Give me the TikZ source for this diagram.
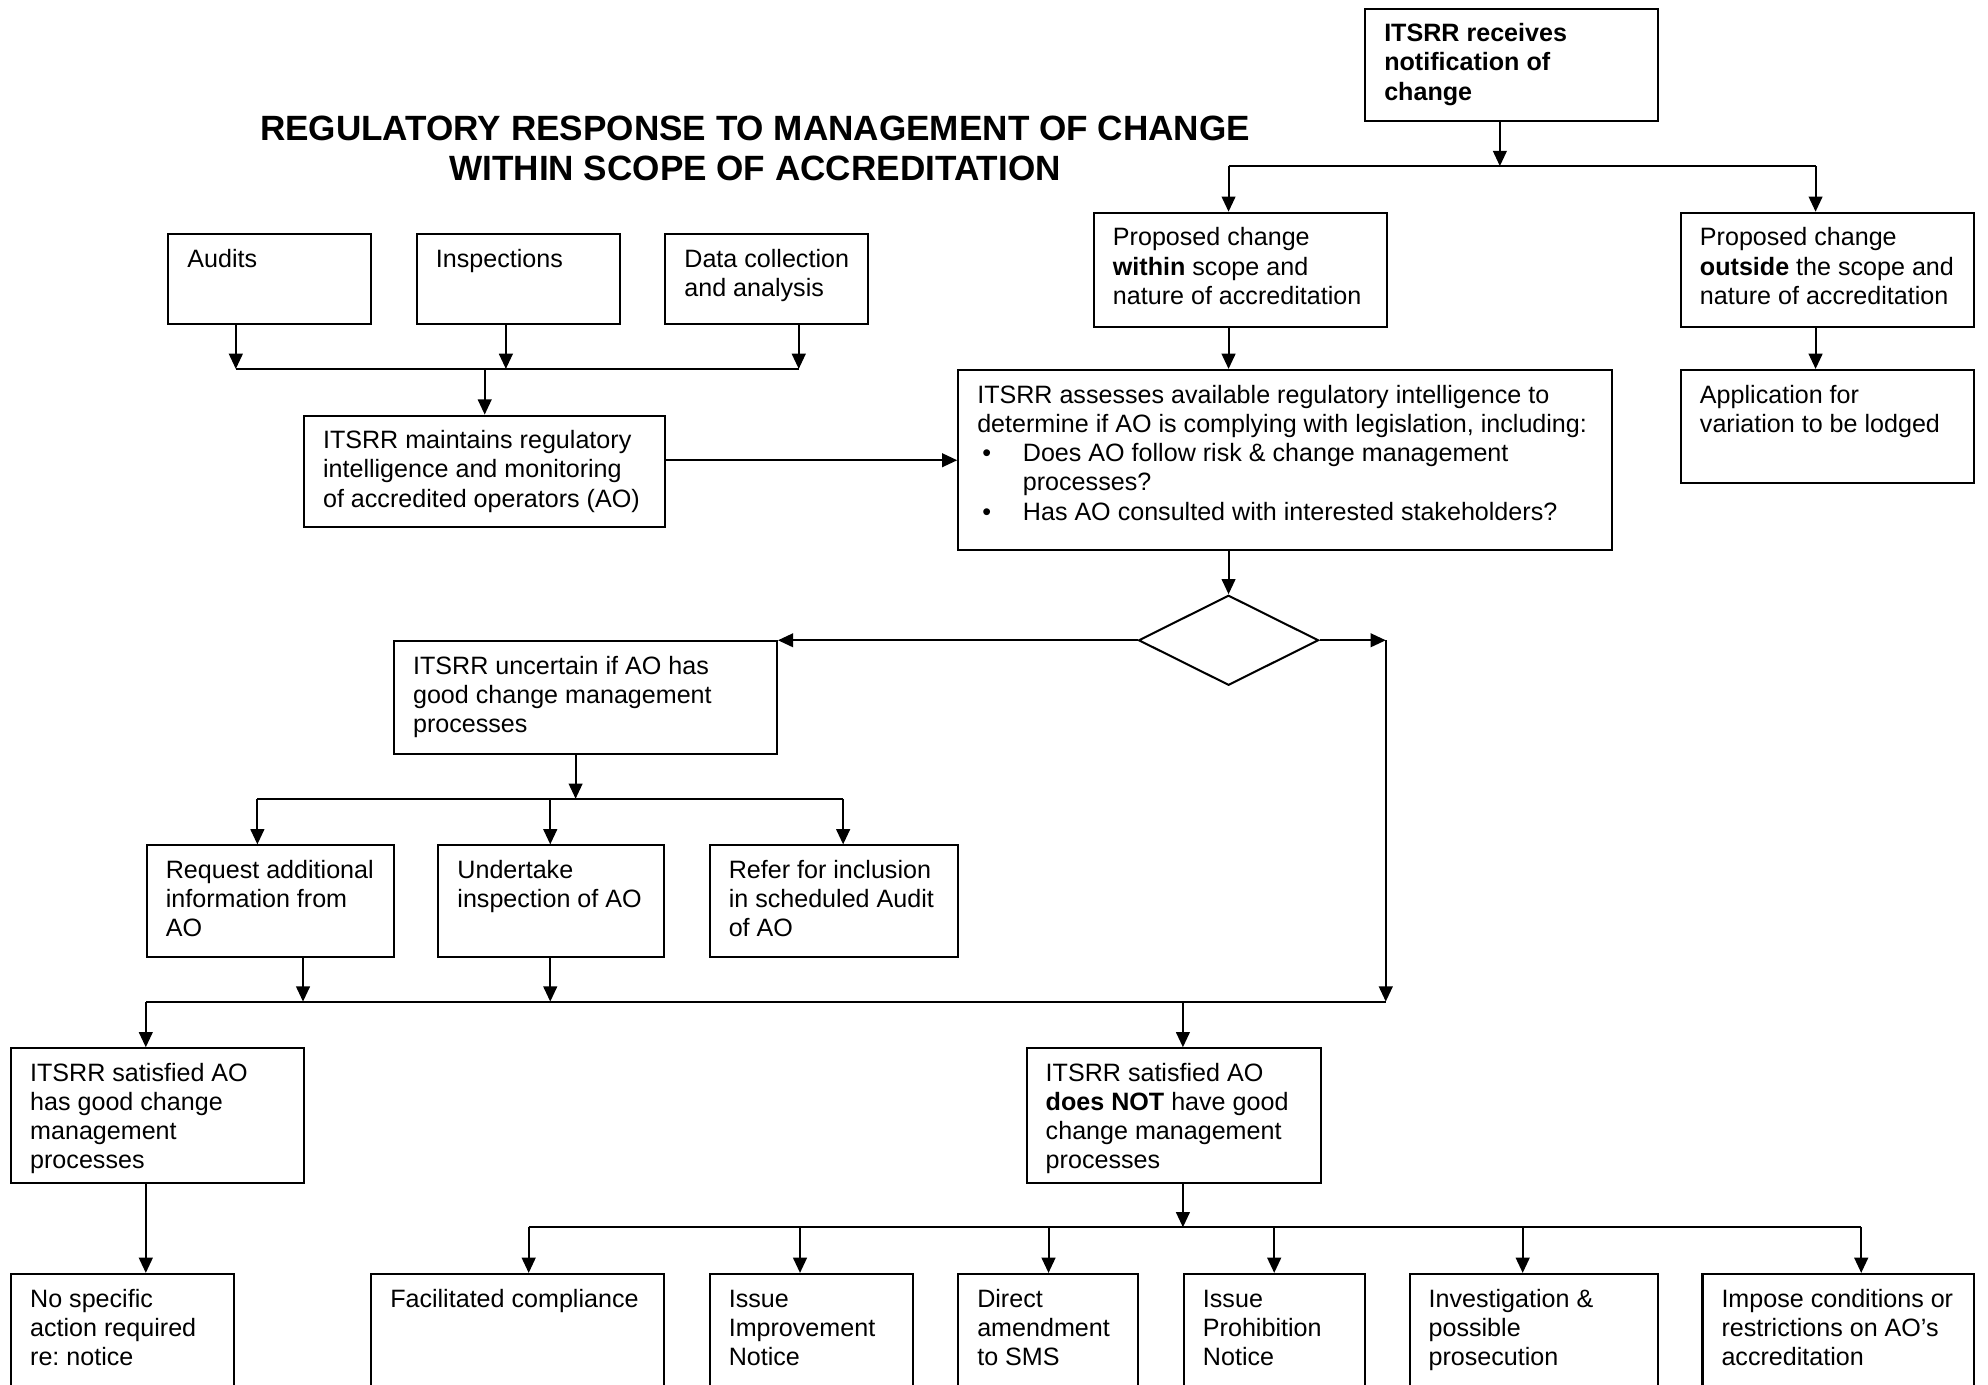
\documentclass[tikz,border=0pt]{standalone}
\usepackage{fontspec}
\setmainfont{Liberation Sans}
\usetikzlibrary{arrows.meta,shapes.geometric}
\frenchspacing
\newcommand{\bx}[3]{\parbox[c][\dimexpr 0.5pt*#2\relax][t]{\dimexpr 0.5pt*#1\relax}{\vspace*{5pt}\leftskip=7.5pt\rightskip=-20pt plus 1fil\parindent=0pt\strut #3}}
\newcommand{\bul}{\makebox[18pt][l]{\hspace{2pt}•}}
\tikzset{
 box/.style={draw, line width=0.8pt, inner sep=0pt, anchor=north west, font=\fontsize{9.9}{11.5}\selectfont},
 arr/.style={line width=0.8pt, -{Triangle[length=6pt,width=5.4pt]}},
 ln/.style={line width=0.8pt},
}
\begin{document}
\begin{tikzpicture}[x=0.5pt,y=-0.5pt]
\useasboundingbox (0,0) rectangle (1568,1092);
\clip (0,0) rectangle (1568,1092);

\node[anchor=north, inner sep=0pt, align=center, font=\bfseries\fontsize{13.85}{16}\selectfont] (title) at (595.5,91) {REGULATORY RESPONSE TO MANAGEMENT OF CHANGE\\WITHIN SCOPE OF ACCREDITATION};

\node[box] (recv) at (1076,6) {\bx{231}{89}{{\bfseries ITSRR receives\\notification of\\change}}};
\node[box] (within) at (862,167) {\bx{231}{90}{Proposed change\\\textbf{within} scope and\\nature of accreditation}};
\node[box] (outside) at (1325,167) {\bx{231}{90}{Proposed change\\\textbf{outside} the scope and\\nature of accreditation}};
\node[box] (appl) at (1325,291) {\bx{231}{89}{Application for\\variation to be lodged}};
\node[box] (audits) at (132,184) {\bx{160}{71}{Audits}};
\node[box] (insp) at (328,184) {\bx{160}{71}{Inspections}};
\node[box] (data) at (524,184) {\bx{160}{71}{Data collection\\and analysis}};
\node[box] (maint) at (239,327) {\bx{285}{88}{ITSRR maintains regulatory\\intelligence and monitoring\\of accredited operators (AO)}};
\node[box] (assess) at (755,291) {\bx{516}{142}{ITSRR assesses available regulatory intelligence to\\determine if AO is complying with legislation, including:\\\bul Does AO follow risk \& change management\\\hspace*{18pt}processes?\\[0.4pt]\bul Has AO consulted with interested stakeholders?}};
\node[diamond, draw, line width=0.8pt, inner sep=0pt, minimum width=71pt, minimum height=35.5pt] (dia) at (969,505) {};
\node[box] (unc) at (310,505) {\bx{302}{89}{ITSRR uncertain if AO has\\good change management\\processes}};
\node[box] (req) at (115,666) {\bx{195}{88}{Request additional\\information from\\AO}};
\node[box] (und) at (345,666) {\bx{178}{88}{Undertake\\inspection of AO}};
\node[box] (ref) at (559,666) {\bx{196}{88}{Refer for inclusion\\in scheduled Audit\\of AO}};
\node[box] (sgood) at (8,826) {\bx{231}{106}{ITSRR satisfied AO\\has good change\\management\\processes}};
\node[box] (snot) at (809,826) {\bx{232}{106}{ITSRR satisfied AO\\\textbf{does NOT} have good\\change management\\processes}};
\node[box] (nospec) at (8,1004) {\bx{176}{150}{No specific\\action required\\re: notice}};
\node[box] (facil) at (292,1004) {\bx{231}{150}{Facilitated compliance}};
\node[box] (impr) at (559,1004) {\bx{160}{150}{Issue\\Improvement\\Notice}};
\node[box] (direct) at (755,1004) {\bx{142}{150}{Direct\\amendment\\to SMS}};
\node[box] (prohib) at (933,1004) {\bx{143}{150}{Issue\\Prohibition\\Notice}};
\node[box] (invest) at (1111,1004) {\bx{196}{150}{Investigation \&\\possible\\prosecution}};
\node[box] (impose) at (1342,1004) {\bx{214}{150}{Impose conditions or\\restrictions on AO’s\\accreditation}};

% top branch
\coordinate (b0) at (1183,131);
\coordinate (bl) at (969,131);
\coordinate (br) at (1432,131);
\draw[arr] (recv.south -| b0) -- (b0);
\draw[ln] (bl) -- (br);
\draw[arr] (bl) -- (bl |- within.north);
\draw[arr] (br) -- (br |- outside.north);
\draw[arr] (outside.south -| br) -- (appl.north -| br);
\draw[arr] (within.south -| bl) -- (assess.north -| bl);

% sources
\coordinate (s1) at (186,291);
\coordinate (s2) at (399,291);
\coordinate (s3) at (630,291);
\draw[arr] (audits.south -| s1) -- (s1);
\draw[arr] (insp.south -| s2) -- (s2);
\draw[arr] (data.south -| s3) -- (s3);
\draw[ln] (s1) -- (s3);
\draw[arr] (maint.north |- s1) -- (maint.north);
\coordinate (m1) at (524,363);
\draw[arr] (maint.east |- m1) -- (assess.west |- m1);

% decision
\draw[arr] (assess.south -| dia.north) -- (dia.north);
\draw[arr] (dia.west) -- (unc.north east);
\coordinate (c1) at (1093,505);
\coordinate (c2) at (1093,790);
\draw[arr] (dia.east) -- (c1);
\draw[arr] (c1) -- (c2);

% uncertain branches
\coordinate (u0) at (454,630);
\coordinate (u1) at (203,630);
\coordinate (u2) at (434,630);
\coordinate (u3) at (665,630);
\draw[arr] (unc.south -| u0) -- (u0);
\draw[ln] (u1) -- (u3);
\draw[arr] (u1) -- (u1 |- req.north);
\draw[arr] (u2) -- (u2 |- und.north);
\draw[arr] (u3) -- (u3 |- ref.north);

% merge bar
\coordinate (v1) at (115,790);
\coordinate (v2) at (239,790);
\coordinate (v3) at (434,790);
\coordinate (v4) at (933,790);
\draw[arr] (req.south -| v2) -- (v2);
\draw[arr] (und.south -| v3) -- (v3);
\draw[ln] (v1) -- (c2);
\draw[arr] (v1) -- (v1 |- sgood.north);
\draw[arr] (v4) -- (v4 |- snot.north);
\draw[arr] (sgood.south -| v1) -- (v1 |- nospec.north);

% bottom bar
\coordinate (w0) at (933,968);
\coordinate (w1) at (417,968);
\coordinate (w2) at (631,968);
\coordinate (w3) at (827,968);
\coordinate (w4) at (1005,968);
\coordinate (w5) at (1201,968);
\coordinate (w6) at (1468,968);
\draw[arr] (snot.south -| w0) -- (w0);
\draw[ln] (w1) -- (w6);
\draw[arr] (w1) -- (w1 |- facil.north);
\draw[arr] (w2) -- (w2 |- impr.north);
\draw[arr] (w3) -- (w3 |- direct.north);
\draw[arr] (w4) -- (w4 |- prohib.north);
\draw[arr] (w5) -- (w5 |- invest.north);
\draw[arr] (w6) -- (w6 |- impose.north);
\end{tikzpicture}
\end{document}
